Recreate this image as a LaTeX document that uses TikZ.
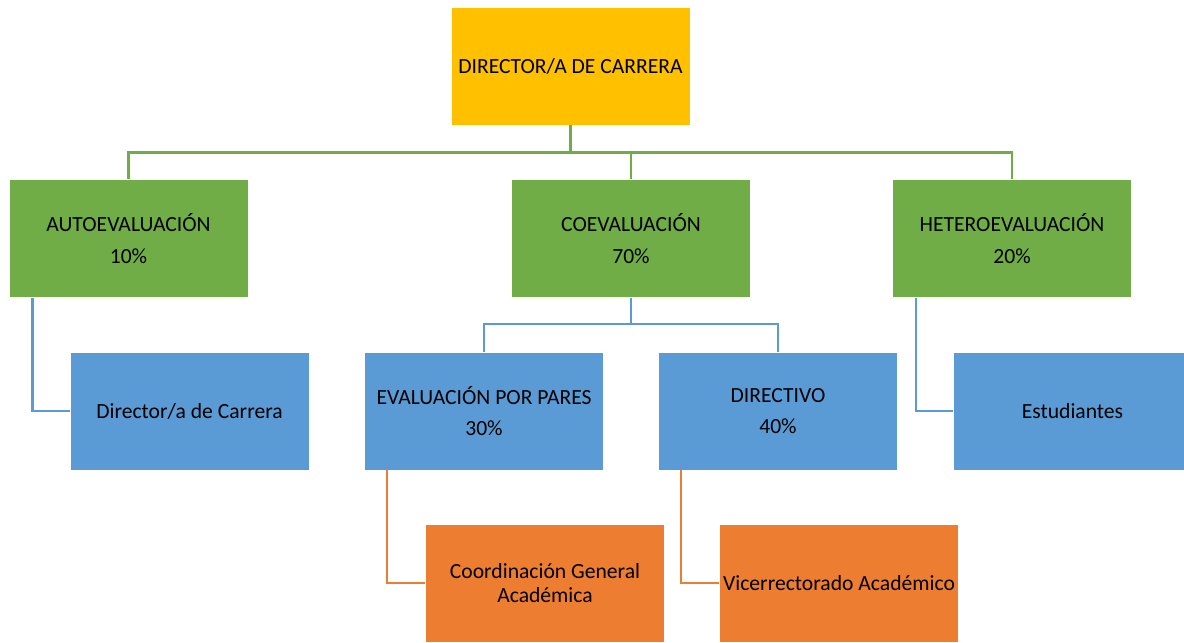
\documentclass[tikz,border=0pt]{standalone}
\usepackage{fontspec}
\setmainfont{Carlito}
\usepackage{tikz}
\usetikzlibrary{calc}

\definecolor{boxgold}{HTML}{FFC000}
\definecolor{boxgreen}{HTML}{70AD47}
\definecolor{boxblue}{HTML}{5B9BD5}
\definecolor{boxorange}{HTML}{ED7D31}

\tikzset{
  unit/.style={draw=white, line width=0.4pt, minimum width=4.78cm, minimum height=2.36cm,
    inner sep=0pt, align=center, font=\fontsize{12.3}{13.6}\selectfont},
  goldbox/.style={unit, fill=boxgold},
  greenbox/.style={unit, fill=boxgreen},
  bluebox/.style={unit, fill=boxblue},
  orangebox/.style={unit, fill=boxorange},
  greenline/.style={-, draw=boxgreen, line width=1.5pt},
  blueline/.style={-, draw=boxblue, line width=1.5pt},
  orangeline/.style={-, draw=boxorange, line width=1.5pt}
}

\begin{document}
\begin{tikzpicture}
% 1 px = 0.02cm
\useasboundingbox (0,0) rectangle (23.68,-12.84);
\begin{scope}
\clip (0,0) rectangle (23.68,-12.84);

\node [goldbox] (dir) at (11.41,-1.32) {DIRECTOR/A DE CARRERA};

\node [greenbox] (auto) at (2.57,-4.77) {AUTOEVALUACIÓN\\[4.5pt]10\%};
\node [greenbox] (coev) at (12.62,-4.77) {COEVALUACIÓN\\[4.5pt]70\%};
\node [greenbox] (hetero) at (20.24,-4.77) {HETEROEVALUACIÓN\\[4.5pt]20\%};

\node [bluebox] (dircarr) at (3.79,-8.22) {Director/a de Carrera};
\node [bluebox] (pares) at (9.68,-8.22) {EVALUACIÓN POR PARES\\[4.5pt]30\%};
\node [bluebox] (directivo) at (15.56,-8.22) {DIRECTIVO\\[4.5pt]40\%};
\node [bluebox] (estud) at (21.45,-8.22) {Estudiantes};

\node [orangebox] (coord) at (10.90,-11.66) {Coordinación General\\Académica};
\node [orangebox] (vice) at (16.78,-11.66) {Vicerrectorado Académico};

% top level
\draw [greenline] (dir.south) -- ++(0,-0.54) -| (auto.north);
\draw [greenline] (dir.south) -- ++(0,-0.54) -| (coev.north);
\draw [greenline] (dir.south) -- ++(0,-0.54) -| (hetero.north);

% coevaluacion
\draw [blueline] (coev.south) -- ++(0,-0.52) -| (pares.north);
\draw [blueline] (coev.south) -- ++(0,-0.52) -| (directivo.north);

% side links
\draw [blueline] ([xshift=0.48cm]auto.south west) |- (dircarr.west);
\draw [blueline] ([xshift=0.48cm]hetero.south west) |- (estud.west);
\draw [orangeline] ([xshift=0.46cm]pares.south west) |- (coord.west);
\draw [orangeline] ([xshift=0.46cm]directivo.south west) |- (vice.west);
\end{scope}
\end{tikzpicture}
\end{document}
